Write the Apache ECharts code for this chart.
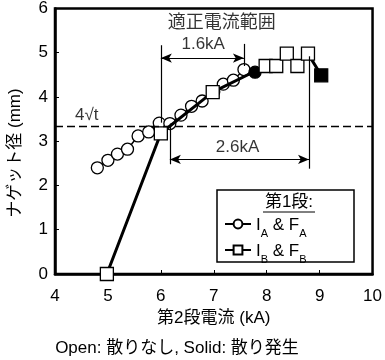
<!DOCTYPE html>
<html><head><meta charset="utf-8">
<script src="https://cdn.jsdelivr.net/npm/echarts@6/dist/echarts.min.js"></script>
<style>html,body{margin:0;padding:0;background:#fff}#c{width:385px;height:360px}</style>
</head><body><div id="c"></div>
<script>
// ---- data ----
const circleX = [4.8, 5.0, 5.18, 5.37, 5.57, 5.77, 5.97, 6.17, 6.38, 6.58, 6.78, 7.0, 7.18, 7.37, 7.57, 7.78];
const circleY = [2.40, 2.57, 2.71, 2.82, 3.12, 3.21, 3.41, 3.40, 3.59, 3.79, 3.91, 4.12, 4.29, 4.38, 4.62, 4.56];
const circleSolid = [0,0,0,0,0,0,0,0,0,0,0,0,0,0,0,1];
const squareX = [4.98, 6.0, 6.98, 7.98, 8.18, 8.38, 8.58, 8.78, 9.03];
const squareY = [0.0, 3.18, 4.11, 4.70, 4.70, 4.98, 4.70, 4.98, 4.49];
const squareSolid = [0,0,0,0,0,0,0,0,1];
const limitY = 3.33;            // 4√t
const range1 = [6.0, 7.57, 4.88]; // x1, x2, arrow y  (1.6kA)
const range2 = [6.17, 8.8, 2.59]; // x1, x2, arrow y  (2.6kA)
const texts = [
  {x: 7.15, y: 5.68, t: '適正電流範囲', fs: 18},
  {x: 6.8, y: 5.18, t: '1.6kA', fs: 17},
  {x: 7.45, y: 2.86, t: '2.6kA', fs: 17},
  {x: 4.6, y: 3.58, t: '4√t', fs: 17}
];
const xTicks = [4,5,6,7,8,9,10];
const yTicks = [0,1,2,3,4,5,6];

const CJK = '"Liberation Sans","Noto Sans CJK JP",sans-serif';
const FS = 17;
const chart = echarts.init(document.getElementById('c'));
function pts(xs, ys, solid) {
  return xs.map((x, i) => ({value: [x, ys[i]], itemStyle: {color: solid[i] ? '#000' : '#fff'}}));
}
const lineStyle = {color: '#000', width: 1.2, type: 'solid'};
const option = {
  animation: false,
  textStyle: {fontFamily: CJK},
  grid: {left: 55, right: 12, top: 8, bottom: 86, show: true, borderColor: '#000', borderWidth: 2.5},
  xAxis: {type: 'value', min: 4, max: 10, interval: 1,
    name: '第2段電流 (kA)', nameLocation: 'middle', nameGap: 36,
    nameTextStyle: {fontSize: FS, color: '#000', fontFamily: CJK},
    axisLine: {lineStyle: {color: '#000', width: 2.5}},
    axisTick: {inside: true, length: 4, lineStyle: {color: '#000', width: 1}},
    axisLabel: {fontSize: FS, color: '#000', margin: 14, fontFamily: CJK},
    splitLine: {show: false}},
  yAxis: {type: 'value', min: 0, max: 6, interval: 1,
    axisLine: {lineStyle: {color: '#000', width: 2.5}},
    axisTick: {inside: true, length: 4, lineStyle: {color: '#000', width: 1}},
    axisLabel: {fontSize: FS, color: '#000', margin: 7, fontFamily: CJK},
    splitLine: {show: false}},
  legend: {
    orient: 'vertical', left: 219, top: 212, itemGap: 4, itemWidth: 26, itemHeight: 11,
    data: ['A', 'B'],
    formatter: n => n === 'A' ? '{m|I}{s|A}{m| & F}{s|A}' : '{m|I}{s|B}{m| & F}{s|B}',
    textStyle: {color: '#000', rich: {
      m: {fontSize: FS, color: '#000', fontFamily: CJK, lineHeight: 20, verticalAlign: 'bottom'},
      s: {fontSize: 11, color: '#000', fontFamily: CJK, lineHeight: 20, verticalAlign: 'bottom', padding: [0, 0, -5, 0]}
    }},
    z: 10
  },
  graphic: [
    {type: 'rect', shape: {x: 217, y: 190, width: 137, height: 72}, style: {fill: '#fff', stroke: '#000', lineWidth: 1.5}, z: 5},
    {type: 'text', x: 289, y: 202, style: {text: '第1段:', font: FS + 'px ' + CJK, fill: '#000', textAlign: 'center', textVerticalAlign: 'middle'}, z: 6},
    {type: 'line', shape: {x1: 263, y1: 212, x2: 315, y2: 212}, style: {stroke: '#000', lineWidth: 1}, z: 6},
    {type: 'text', x: 177, y: 348, style: {text: 'Open: 散りなし, Solid: 散り発生', font: FS + 'px ' + CJK, fill: '#000', textAlign: 'center', textVerticalAlign: 'middle'}, z: 6},
    {type: 'text', x: 15, y: 153, rotation: Math.PI / 2, style: {text: 'ナゲット径 (mm)', font: FS + 'px ' + CJK, fill: '#000', textAlign: 'center', textVerticalAlign: 'middle'}, z: 6}
  ],
  series: [
    {name: 'A', type: 'line', data: pts(circleX, circleY, circleSolid), symbol: 'circle', symbolSize: 12,
      lineStyle: {color: '#000', width: 1.5}, itemStyle: {color: '#fff', borderColor: '#000', borderWidth: 1.3}, z: 3},
    {name: 'B', type: 'line', data: pts(squareX, squareY, squareSolid), symbol: 'rect', symbolSize: 13,
      lineStyle: {color: '#000', width: 3}, itemStyle: {color: '#fff', borderColor: '#000', borderWidth: 1.3}, z: 4},
    {name: 'ann', type: 'scatter', data: texts.map(t => ({value: [t.x, t.y], name: t.t, label: {fontSize: t.fs}})), symbolSize: 0, silent: true,
      label: {show: true, formatter: p => p.name, fontSize: FS, color: '#000', fontFamily: CJK, position: 'inside'},
      markLine: {silent: true, symbol: 'none', animation: false, label: {show: false},
        lineStyle: lineStyle,
        data: [
          [{coord: [4, limitY], lineStyle: {type: [8, 4], width: 1.3}}, {coord: [10, limitY]}],
          [{coord: [range1[0], 5.17]}, {coord: [range1[0], 3.42]}],
          [{coord: [range1[1], 5.2]}, {coord: [range1[1], 4.7]}],
          [{coord: [range1[0], range1[2]], symbol: 'arrow', symbolSize: [7, 11]}, {coord: [range1[1], range1[2]], symbol: 'arrow', symbolSize: [7, 11]}],
          [{coord: [range2[0], 3.4]}, {coord: [range2[0], 2.48]}],
          [{coord: [range2[1], 4.92]}, {coord: [range2[1], 2.38]}],
          [{coord: [range2[0], range2[2]], symbol: 'arrow', symbolSize: [7, 11]}, {coord: [range2[1], range2[2]], symbol: 'arrow', symbolSize: [7, 11]}]
        ]}}
  ]
};
chart.setOption(option);
</script></body></html>
